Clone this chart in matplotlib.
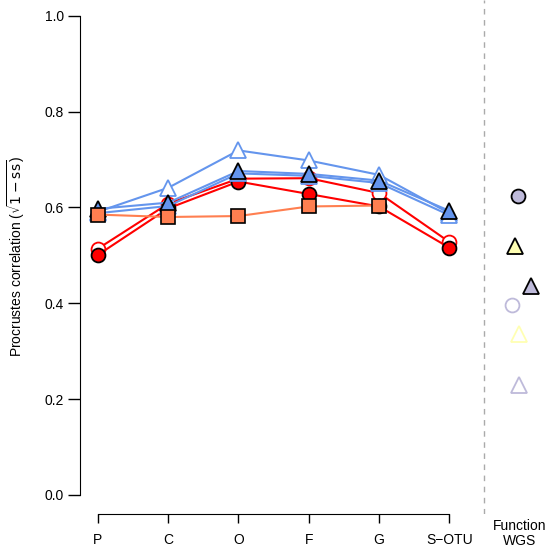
"""
Procrustes correlation across taxonomic levels, with whole-genome
function scores shown in a separate column on the right.
"""

import matplotlib.pyplot as plt

plt.rcParams["font.family"] = ["Liberation Sans", "DejaVu Sans"]

levels = ["P", "C", "O", "F", "G", "S\u2212OTU"]

# taxonomic-level series
blue_open_top = [0.591, 0.641, 0.719, 0.698, 0.668, 0.588]
blue_open_low = [0.588, 0.603, 0.671, 0.666, 0.651, 0.584]
blue_filled = [0.597, 0.610, 0.676, 0.670, 0.656, 0.593]
red_open = [0.514, 0.608, 0.660, 0.661, 0.630, 0.528]
red_filled = [0.501, 0.598, 0.654, 0.628, 0.602, 0.516]
orange_sq = [0.585, 0.580, 0.582, 0.602, 0.604]

# function / WGS column (x, y)
wgs_x = [5.98, 5.94, 6.17, 5.89, 6.00, 6.00]
wgs_y = [0.624, 0.519, 0.437, 0.397, 0.336, 0.229]

BLUE = "#6495ED"
RED = "#FF0000"
ORANGE = "#FF7F50"
LAV = "#BEBADA"
YEL = "#FFFFB3"

fig = plt.figure(figsize=(5.49, 5.47), dpi=100)
W, H = 549, 547
# data range mapped so that x=0..5 and y=0..1 land on the drawn axes
x0, x1 = -0.256, 6.42
y0, y1 = -0.04, 1.033
ax = fig.add_axes([80 / W, (H - 514) / H, (549 - 80) / W, 514 / H])
ax.set_xlim(x0, x1)
ax.set_ylim(y0, y1)

xs = list(range(len(levels)))
lw = 1.5

# red circles
ax.plot(xs, red_open, color=RED, lw=lw, marker="o", ms=10,
        mfc="white", mec=RED, mew=1.3, zorder=2)
ax.plot(xs, red_filled, color=RED, lw=lw, marker="o", ms=10,
        mfc=RED, mec="black", mew=1.3, zorder=3)

# blue triangles
ax.plot(xs, blue_open_top, color=BLUE, lw=lw, marker="^", ms=12,
        mfc="white", mec=BLUE, mew=1.3, zorder=4)
ax.plot(xs, blue_open_low, color=BLUE, lw=lw, marker="^", ms=12,
        mfc="white", mec=BLUE, mew=1.3, zorder=4)
ax.plot(xs, blue_filled, color=BLUE, lw=lw, marker="^", ms=12,
        mfc=BLUE, mec="black", mew=1.3, zorder=5)

# orange squares (no S-OTU value)
ax.plot(xs[:len(orange_sq)], orange_sq, color=ORANGE, lw=lw, marker="s",
        ms=9.5, mfc=ORANGE, mec="black", mew=1.2, zorder=6)

# function / WGS points
wgs_style = [
    dict(marker="o", ms=10, mfc=LAV, mec="black"),
    dict(marker="^", ms=12, mfc=YEL, mec="black"),
    dict(marker="^", ms=12, mfc=LAV, mec="black"),
    dict(marker="o", ms=10, mfc="white", mec=LAV),
    dict(marker="^", ms=12, mfc="white", mec=YEL),
    dict(marker="^", ms=12, mfc="white", mec=LAV),
]
for x, y, st in zip(wgs_x, wgs_y, wgs_style):
    ax.plot([x], [y], ls="none", mew=1.3, zorder=6, **st)

ax.axvline(5.5, color="#aaaaaa", lw=1, ls=(0, (4, 4)))

# axes styling
for side in ("top", "right"):
    ax.spines[side].set_visible(False)
ax.spines["left"].set_bounds(0, 1)
ax.spines["bottom"].set_bounds(0, 5)
ax.set_yticks([0, 0.2, 0.4, 0.6, 0.8, 1.0])
ax.set_yticklabels(["0.0", "0.2", "0.4", "0.6", "0.8", "1.0"])
ax.set_xticks(xs)
ax.set_xticklabels(levels)
ax.tick_params(axis="both", labelsize=10, width=1)
ax.tick_params(axis="x", length=6.5, pad=7)
ax.tick_params(axis="y", length=9, pad=2.5)
ax.text(6.0, -0.08, "Function\nWGS", ha="center", va="center",
        fontsize=10, linespacing=1.1)
ax.set_ylabel(r"Procrustes correlation ($\sqrt{1-\mathrm{ss}}$)",
              fontsize=10)
ax.yaxis.set_label_coords(-0.114, 0.5)

fig.savefig("out.png", dpi=100)
